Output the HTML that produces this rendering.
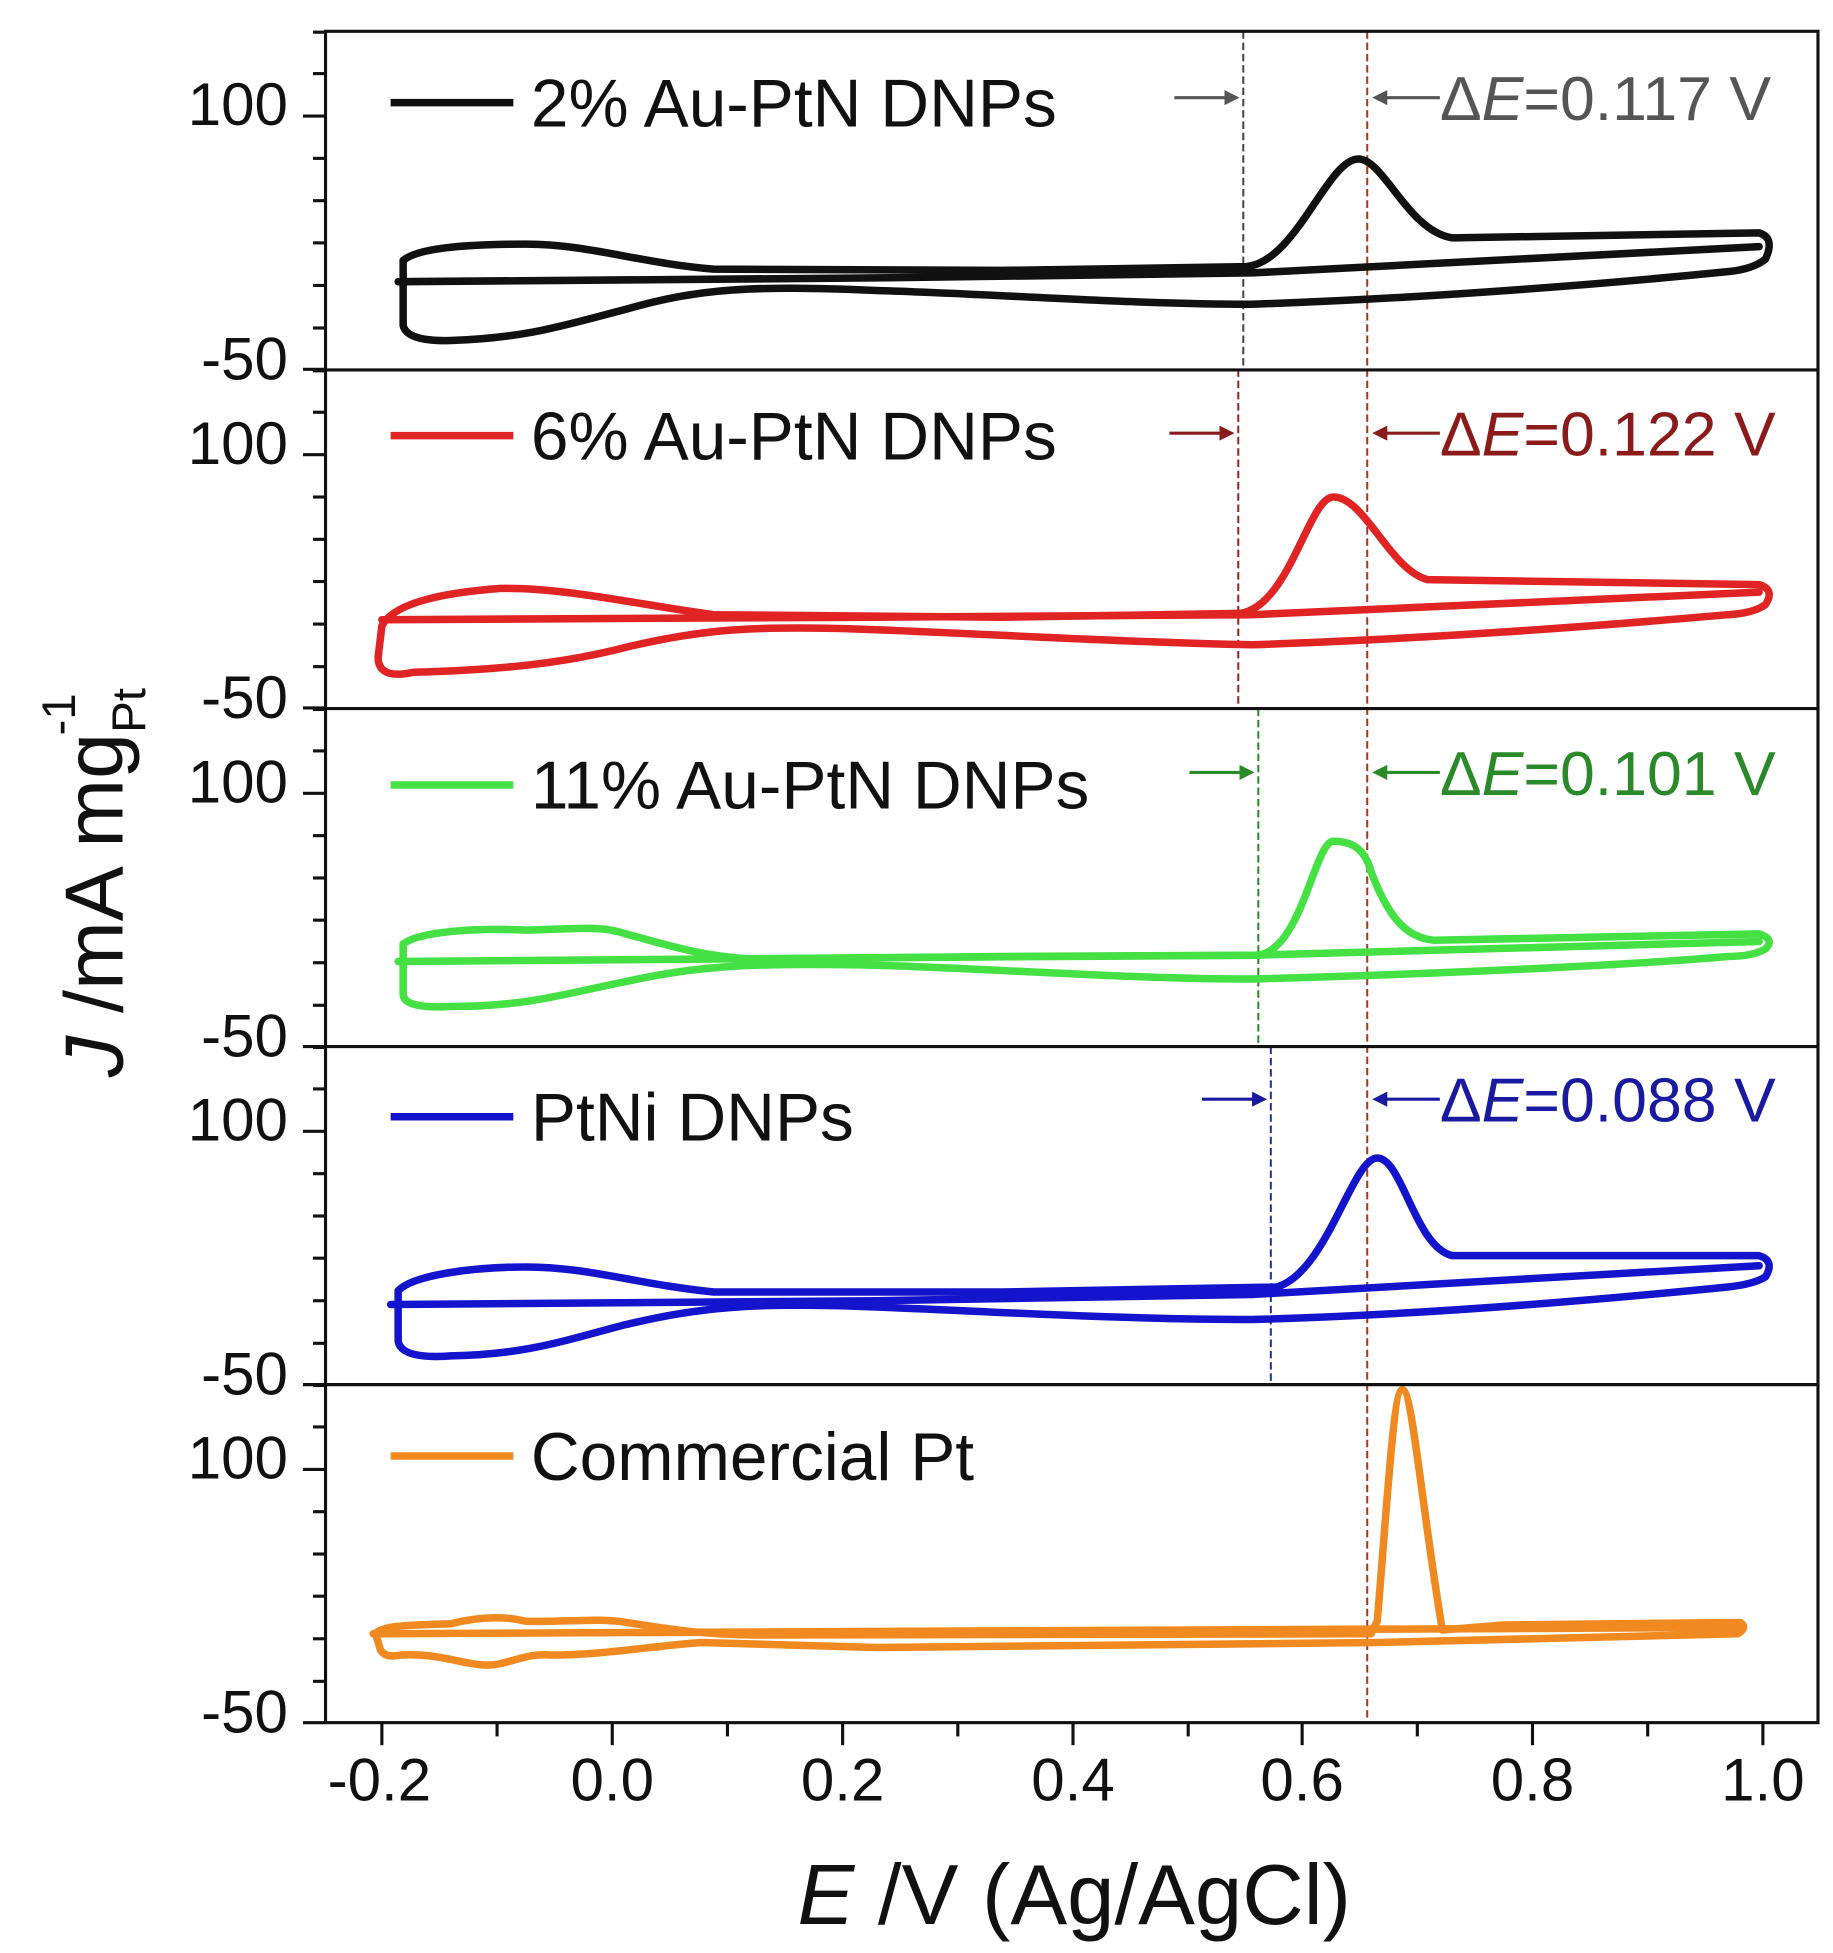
<!DOCTYPE html>
<html><head><meta charset="utf-8"><style>
html,body{margin:0;padding:0;background:#fff;}
svg{display:block;}
text{font-family:"Liberation Sans",Arial,sans-serif;}
</style></head><body>
<svg width="1833" height="1953" viewBox="0 0 1464 1560" preserveAspectRatio="none" xmlns="http://www.w3.org/2000/svg">
<defs>
<g id="yt" stroke="#111" stroke-width="2.5">
<line x1="250" y1="0.7" x2="260" y2="0.7"/>
<line x1="250" y1="33.8" x2="260" y2="33.8"/>
<line x1="242" y1="67.7" x2="260" y2="67.7"/>
<line x1="250" y1="101.5" x2="260" y2="101.5"/>
<line x1="250" y1="135.3" x2="260" y2="135.3"/>
<line x1="250" y1="169" x2="260" y2="169"/>
<line x1="250" y1="203" x2="260" y2="203"/>
<line x1="250" y1="237" x2="260" y2="237"/>
<line x1="242" y1="270" x2="260" y2="270"/>
</g>
<g id="yl" font-size="48" fill="#111" text-anchor="end">
<text x="230" y="75">100</text>
<text x="230" y="278">-50</text>
</g>
</defs>

<use href="#yt" transform="translate(0,25)"/><use href="#yl" transform="translate(0,25)"/>
<use href="#yt" transform="translate(0,295.5)"/><use href="#yl" transform="translate(0,295.5)"/>
<use href="#yt" transform="translate(0,566)"/><use href="#yl" transform="translate(0,566)"/>
<use href="#yt" transform="translate(0,836)"/><use href="#yl" transform="translate(0,836)"/>
<use href="#yt" transform="translate(0,1106)"/><use href="#yl" transform="translate(0,1106)"/>

<g stroke="#111" stroke-width="2.5">
<line x1="305" y1="1376" x2="305" y2="1394"/>
<line x1="397" y1="1376" x2="397" y2="1387"/>
<line x1="489" y1="1376" x2="489" y2="1394"/>
<line x1="581" y1="1376" x2="581" y2="1387"/>
<line x1="673" y1="1376" x2="673" y2="1394"/>
<line x1="765" y1="1376" x2="765" y2="1387"/>
<line x1="857" y1="1376" x2="857" y2="1394"/>
<line x1="949" y1="1376" x2="949" y2="1387"/>
<line x1="1040" y1="1376" x2="1040" y2="1394"/>
<line x1="1132" y1="1376" x2="1132" y2="1387"/>
<line x1="1224" y1="1376" x2="1224" y2="1394"/>
<line x1="1316" y1="1376" x2="1316" y2="1387"/>
<line x1="1408" y1="1376" x2="1408" y2="1394"/>
</g>
<g font-size="48" fill="#111" text-anchor="middle">
<text x="303" y="1438">-0.2</text>
<text x="489" y="1438">0.0</text>
<text x="673" y="1438">0.2</text>
<text x="857" y="1438">0.4</text>
<text x="1040" y="1438">0.6</text>
<text x="1224" y="1438">0.8</text>
<text x="1408" y="1438">1.0</text>
</g>
<text x="858" y="1537" font-size="68" fill="#111" text-anchor="middle"><tspan font-style="italic">E</tspan> /V (Ag/AgCl)</text>
<text transform="translate(98,705) rotate(-90)" font-size="66" fill="#111" text-anchor="middle"><tspan font-style="italic">J</tspan> /mA mg<tspan font-size="38" dy="18">Pt</tspan><tspan font-size="38" dx="-38" dy="-56">-1</tspan></text>

<g stroke-width="1.6" stroke-dasharray="6,3" fill="none">
<line x1="1092" y1="25" x2="1092" y2="1376" stroke="#b03020"/>
<line x1="993" y1="25" x2="993" y2="295" stroke="#444"/>
<line x1="989" y1="295" x2="989" y2="566" stroke="#a02020"/>
<line x1="1005" y1="566" x2="1005" y2="836" stroke="#2a8a2a"/>
<line x1="1015" y1="836" x2="1015" y2="1106" stroke="#2030a0"/>
</g>

<g fill="none" stroke-width="6" stroke-linejoin="round" stroke-linecap="round">
<g transform="translate(0,25)" stroke="#111">
<path d="M322,183 C335,172 380,170 420,170 C470,170 510,185 570,190 L800,191 L995,188 C1035,185 1060,102 1085,102 C1105,102 1125,160 1160,165 L1405,161 Q1418,165 1410,182 Q1400,190 1380,192 C1300,200 1150,213 1000,218 C900,218 800,210 700,207 C600,203 560,205 500,222 C450,235 420,245 360,247 Q325,248 322,235 Z"/>
<path d="M318,200 L700,197 L1000,193 L1405,172"/>
</g>
<g transform="translate(0,295)" stroke="#e02424">
<path d="M305,205 C315,185 360,178 400,175 C450,174 510,188 570,196 L800,198 L990,195 C1030,190 1045,102 1065,102 C1090,102 1110,160 1140,168 L1405,172 Q1418,176 1410,188 Q1400,195 1380,196 C1300,203 1150,215 1000,220 C900,218 800,212 700,208 C600,204 560,208 500,222 C450,235 400,240 330,242 Q302,248 302,230 Z"/>
<path d="M305,200 L700,198 L1000,196 L1405,178"/>
</g>
<g transform="translate(0,566)" stroke="#44e044">
<path d="M322,188 C335,178 380,175 420,177 C460,176 480,173 500,180 C530,188 560,198 600,200 L800,198 L1005,197 C1040,192 1050,106 1065,106 C1080,106 1090,112 1095,130 C1110,170 1125,183 1145,185 L1405,180 Q1418,184 1410,192 Q1400,198 1380,198 C1300,205 1150,212 1000,216 C900,216 800,208 700,205 C600,203 560,205 500,218 C450,228 420,238 360,238 Q322,240 322,228 Z"/>
<path d="M318,202 L700,199 L1000,197 L1405,186"/>
</g>
<g transform="translate(0,836)" stroke="#1414cc">
<path d="M318,195 C330,182 380,176 420,176 C470,176 510,190 570,196 L800,196 L1020,192 C1060,180 1080,89 1100,89 C1120,89 1130,160 1160,167 L1405,167 Q1418,171 1410,184 Q1400,190 1380,192 C1300,200 1150,214 1000,218 C900,218 800,212 700,208 C600,204 560,208 500,222 C450,235 420,246 360,247 Q320,250 318,235 Z"/>
<path d="M312,206 L700,203 L1000,198 L1405,175"/>
</g>
<g stroke="#f08a20">
<path d="M300,1305 C305,1298 330,1298 360,1297 C380,1292 400,1290 420,1295 C450,1296 480,1292 500,1296 C530,1300 550,1305 600,1306 L1095,1305 L1100,1295 C1108,1200 1113,1110 1120,1110 C1128,1110 1135,1200 1152,1302 L1200,1298 L1390,1296 Q1396,1300 1388,1305 L1100,1312 L700,1316 L560,1312 C520,1315 480,1322 440,1322 C420,1320 405,1330 390,1330 C370,1330 350,1320 320,1322 Q305,1325 303,1315 Z"/>
<path d="M298,1305 L1390,1300"/>
</g>
</g>

<g stroke-width="6">
<line x1="312" y1="82" x2="410" y2="82" stroke="#111"/>
<line x1="312" y1="348" x2="410" y2="348" stroke="#e02424"/>
<line x1="312" y1="627" x2="410" y2="627" stroke="#44e044"/>
<line x1="312" y1="892" x2="410" y2="892" stroke="#1414cc"/>
<line x1="312" y1="1163" x2="410" y2="1163" stroke="#f08a20"/>
</g>
<g font-size="54" fill="#111">
<text x="424" y="101">2% Au-PtN DNPs</text>
<text x="424" y="367">6% Au-PtN DNPs</text>
<text x="424" y="646">11% Au-PtN DNPs</text>
<text x="424" y="911">PtNi DNPs</text>
<text x="424" y="1182">Commercial Pt</text>
</g>

<g stroke-width="2.5">
<g stroke="#555" fill="#555"><line x1="938" y1="78" x2="982" y2="78"/><path d="M990,78 L978,72 L978,84 Z" stroke="none"/><line x1="1104" y1="78" x2="1150" y2="78"/><path d="M1096,78 L1108,72 L1108,84 Z" stroke="none"/></g>
<g stroke="#8b1a1a" fill="#8b1a1a"><line x1="934" y1="346" x2="978" y2="346"/><path d="M986,346 L974,340 L974,352 Z" stroke="none"/><line x1="1104" y1="346" x2="1150" y2="346"/><path d="M1096,346 L1108,340 L1108,352 Z" stroke="none"/></g>
<g stroke="#2a8a2a" fill="#2a8a2a"><line x1="950" y1="617" x2="994" y2="617"/><path d="M1002,617 L990,611 L990,623 Z" stroke="none"/><line x1="1104" y1="617" x2="1150" y2="617"/><path d="M1096,617 L1108,611 L1108,623 Z" stroke="none"/></g>
<g stroke="#1a1aa0" fill="#1a1aa0"><line x1="960" y1="878" x2="1004" y2="878"/><path d="M1012,878 L1000,872 L1000,884 Z" stroke="none"/><line x1="1104" y1="878" x2="1150" y2="878"/><path d="M1096,878 L1108,872 L1108,884 Z" stroke="none"/></g>
</g>
<g font-size="50">
<text x="1150" y="96" fill="#555">Δ<tspan font-style="italic">E</tspan>=0.117 V</text>
<text x="1150" y="364" fill="#8b1a1a">Δ<tspan font-style="italic">E</tspan>=0.122 V</text>
<text x="1150" y="635" fill="#2a8a2a">Δ<tspan font-style="italic">E</tspan>=0.101 V</text>
<text x="1150" y="896" fill="#1a1aa0">Δ<tspan font-style="italic">E</tspan>=0.088 V</text>
</g>

<g stroke="#111" stroke-width="2.5" fill="none">
<rect x="260" y="25" width="1192" height="1351"/>
<line x1="260" y1="295.5" x2="1452" y2="295.5"/>
<line x1="260" y1="566" x2="1452" y2="566"/>
<line x1="260" y1="836" x2="1452" y2="836"/>
<line x1="260" y1="1106" x2="1452" y2="1106"/>
</g>
</svg>
</body></html>
